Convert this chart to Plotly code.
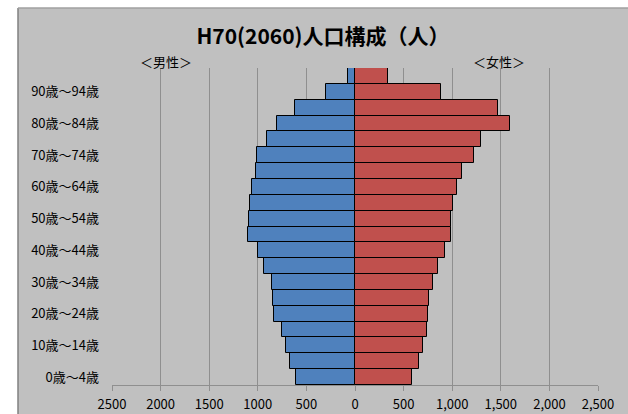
import plotly.graph_objects as go

ages = ["0歳～4歳", "5歳～9歳", "10歳～14歳", "15歳～19歳", "20歳～24歳",
        "25歳～29歳", "30歳～34歳", "35歳～39歳", "40歳～44歳", "45歳～49歳",
        "50歳～54歳", "55歳～59歳", "60歳～64歳", "65歳～69歳", "70歳～74歳",
        "75歳～79歳", "80歳～84歳", "85歳～89歳", "90歳～94歳", "95歳～99歳"]
male = [607, 669, 710, 755, 830, 840, 851, 933, 995, 1098,
        1088, 1084, 1060, 1019, 1012, 902, 806, 621, 302, 69]
female = [587, 655, 703, 741, 748, 765, 806, 851, 926, 992,
          991, 1012, 1046, 1104, 1228, 1293, 1592, 1471, 888, 343]
shown_ages = ages[0::2]
x_tickvals = [-2500, -2000, -1500, -1000, -500, 0, 500, 1000, 1500, 2000, 2500]
x_ticktext = ["2500", "2000", "1500", "1000", "500", "0", "500", "1,000", "1,500", "2,000", "2,500"]

FONT = "Noto Sans CJK JP"
GRAY = "#c0c0c0"

fig = go.Figure()
fig.add_trace(go.Bar(y=ages, x=[-v for v in male], orientation="h", name="男性",
                     marker=dict(color="#4f81bd", line=dict(color="#000000", width=1))))
fig.add_trace(go.Bar(y=ages, x=female, orientation="h", name="女性",
                     marker=dict(color="#c0504d", line=dict(color="#000000", width=1))))

L, R, T, B = 112, 598, 68, 385
W, H = 628, 414
pw, ph = R - L, B - T

def px(xp):
    return (xp - L) / pw

def py(yp):
    return (B - yp) / ph

fig.update_layout(
    width=W, height=H,
    margin=dict(l=L, r=W - R, t=T, b=H - B, pad=0, autoexpand=False),
    paper_bgcolor=GRAY, plot_bgcolor=GRAY,
    barmode="overlay", bargap=0,
    showlegend=False,
    font=dict(family=FONT, color="#000000", size=12),
    title=dict(text="<b>H70(2060)人口構成（人）</b>", x=323 / W, xref="container",
               y=1 - 37 / H, yref="container", xanchor="center", yanchor="middle",
               font=dict(family=FONT, size=21, color="#000000")),
    xaxis=dict(range=[-2500, 2500], tickvals=x_tickvals, ticktext=x_ticktext,
               showgrid=True, gridcolor="#8f8f8f", gridwidth=1,
               zeroline=True, zerolinecolor="#8a8a8a", zerolinewidth=1,
               showline=True, linecolor="#8f8f8f", linewidth=1,
               ticks="outside", ticklen=5, tickcolor="#8f8f8f",
               ticklabelstandoff=2, automargin=False,
               tickfont=dict(family=FONT, size=13, color="#000000"), fixedrange=True),
    yaxis=dict(type="category", range=[-0.5, 19.5], tickvals=shown_ages, ticktext=shown_ages,
               showgrid=False, zeroline=False, showline=False, ticks="",
               ticklabelstandoff=12, automargin=False,
               tickfont=dict(family=FONT, size=13, color="#000000"), fixedrange=True),
)

xl = px(18)
yt = py(8)
fig.add_shape(type="rect", xref="paper", yref="paper", x0=-0.5, x1=xl, y0=-0.5, y1=1.5,
              fillcolor="#ffffff", line=dict(width=0), layer="above")
fig.add_shape(type="rect", xref="paper", yref="paper", x0=-0.5, x1=1.5, y0=yt, y1=1.5,
              fillcolor="#ffffff", line=dict(width=0), layer="above")
fig.add_shape(type="line", xref="paper", yref="paper", x0=xl, x1=xl, y0=-0.5, y1=yt,
              line=dict(color="#808080", width=1.5), layer="above")
fig.add_shape(type="line", xref="paper", yref="paper", x0=xl, x1=1.5, y0=yt, y1=yt,
              line=dict(color="#a0a0a0", width=1.5), layer="above")

fig.add_annotation(text="＜男性＞", xref="paper", yref="paper", x=px(166), y=py(62),
                   showarrow=False, xanchor="center", yanchor="middle",
                   font=dict(family=FONT, size=13, color="#000000"))
fig.add_annotation(text="＜女性＞", xref="paper", yref="paper", x=px(499), y=py(62),
                   showarrow=False, xanchor="center", yanchor="middle",
                   font=dict(family=FONT, size=13, color="#000000"))

fig.write_html("out.html", config={"displayModeBar": False})
